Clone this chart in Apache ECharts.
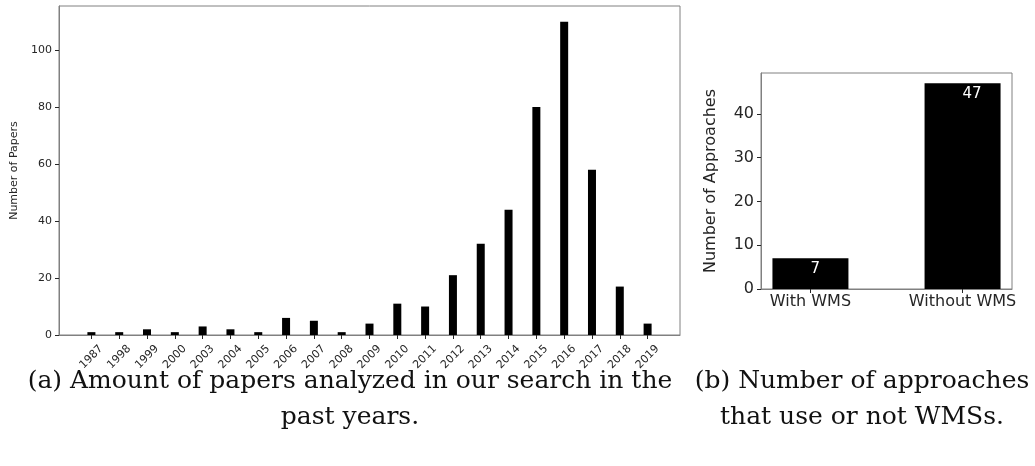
<!DOCTYPE html>
<html>
<head>
<meta charset="utf-8">
<title>papers / approaches</title>
<script src="https://cdn.jsdelivr.net/npm/echarts@6/dist/echarts.min.js"></script>
<style>
	html, body { margin: 0; padding: 0; background: #fff; }
	#chart { width: 1035px; height: 466px; }
</style>
</head>
<body>
<div id="chart"></div>
<script>
// (a) papers per year
var years = ['1987', '1998', '1999', '2000', '2003', '2004', '2005', '2006', '2007', '2008', '2009',
	'2010', '2011', '2012', '2013', '2014', '2015', '2016', '2017', '2018', '2019'];
var papers = [1, 1, 2, 1, 3, 2, 1, 6, 5, 1, 4, 11, 10, 21, 32, 44, 80, 110, 58, 17, 4];
var paperTicks = [0, 20, 40, 60, 80, 100];

// (b) approaches with / without WMS
var wmsCats = ['With WMS', 'Without WMS'];
var wmsCounts = [7, 47];
var wmsTicks = [0, 10, 20, 30, 40];

var frame = '#808080';
var ink = '#262626';

function idx(arr) {
	return arr.map(function(v, i) { return i; });
}

var chart = echarts.init(document.getElementById('chart'), null, { renderer: 'canvas' });

var option = {
	animation: false,
	backgroundColor: '#fff',
	grid: [
		{ left: 59, top: 6, width: 621, height: 329, show: true, borderColor: frame, borderWidth: 1 },
		{ left: 761, top: 73, width: 251, height: 216, show: true, borderColor: frame, borderWidth: 1 },
	],
	xAxis: [
		{
			gridIndex: 0,
			type: 'value',
			min: -1.165,
			max: 21.165,
			splitLine: { show: false },
			axisLine: { onZero: false, lineStyle: { color: frame } },
			axisTick: { show: true, length: 4, customValues: idx(years), lineStyle: { color: ink } },
			axisLabel: {
				customValues: idx(years),
				formatter: function(v) { return years[Math.round(v)]; },
				rotate: 45,
				align: 'center',
				verticalAlign: 'middle',
				margin: 22,
				color: ink,
				fontFamily: 'DejaVu Sans',
				fontSize: 11,
			},
		},
		{
			gridIndex: 1,
			type: 'value',
			min: -0.325,
			max: 1.325,
			splitLine: { show: false },
			axisLine: { onZero: false, lineStyle: { color: frame } },
			axisTick: { show: true, length: 4, customValues: idx(wmsCats), lineStyle: { color: ink } },
			axisLabel: {
				customValues: idx(wmsCats),
				formatter: function(v) { return wmsCats[Math.round(v)]; },
				margin: 5,
				color: ink,
				fontFamily: 'DejaVu Sans',
				fontSize: 16,
			},
		},
	],
	yAxis: [
		{
			gridIndex: 0,
			type: 'value',
			min: 0,
			max: 115.5,
			name: 'Number of Papers',
			nameLocation: 'middle',
			nameGap: 38,
			nameTextStyle: { color: ink, fontFamily: 'DejaVu Sans', fontSize: 11 },
			splitLine: { show: false },
			axisLine: { show: true, onZero: false, lineStyle: { color: frame } },
			axisTick: { show: true, length: 4, customValues: paperTicks, lineStyle: { color: ink } },
			axisLabel: { customValues: paperTicks, margin: 7, color: ink, fontFamily: 'DejaVu Sans', fontSize: 11 },
		},
		{
			gridIndex: 1,
			type: 'value',
			min: 0,
			max: 49.35,
			name: 'Number of Approaches',
			nameLocation: 'middle',
			nameGap: 42,
			nameTextStyle: { color: ink, fontFamily: 'DejaVu Sans', fontSize: 16 },
			splitLine: { show: false },
			axisLine: { show: true, onZero: false, lineStyle: { color: frame } },
			axisTick: { show: true, length: 4, customValues: wmsTicks, lineStyle: { color: ink } },
			axisLabel: { customValues: wmsTicks, margin: 7, color: ink, fontFamily: 'DejaVu Sans', fontSize: 16 },
		},
	],
	series: [
		{
			type: 'bar',
			xAxisIndex: 0,
			yAxisIndex: 0,
			barWidth: 8,
			itemStyle: { color: '#000' },
			data: papers.map(function(v, i) { return [i, v]; }),
		},
		{
			type: 'bar',
			xAxisIndex: 1,
			yAxisIndex: 1,
			barWidth: 76,
			itemStyle: { color: '#000' },
			label: {
				show: true,
				position: ['50%', 3],
				align: 'left',
				verticalAlign: 'top',
				color: '#fff',
				fontFamily: 'DejaVu Sans',
				fontSize: 15,
				formatter: function(p) { return p.value[1]; },
			},
			data: wmsCounts.map(function(v, i) { return [i, v]; }),
		},
	],
	// captions under the two panels
	graphic: [
		{
			type: 'text',
			x: 350, y: 363,
			style: {
				text: '(a) Amount of papers analyzed in our search in the\npast years.',
				font: '25px "DejaVu Serif"',
				fill: '#111',
				align: 'center',
				verticalAlign: 'top',
				lineHeight: 36,
			},
		},
		{
			type: 'text',
			x: 862, y: 363,
			style: {
				text: '(b) Number of approaches\nthat use or not WMSs.',
				font: '25px "DejaVu Serif"',
				fill: '#111',
				align: 'center',
				verticalAlign: 'top',
				lineHeight: 36,
			},
		},
	],
};

chart.setOption(option);
</script>
</body>
</html>
